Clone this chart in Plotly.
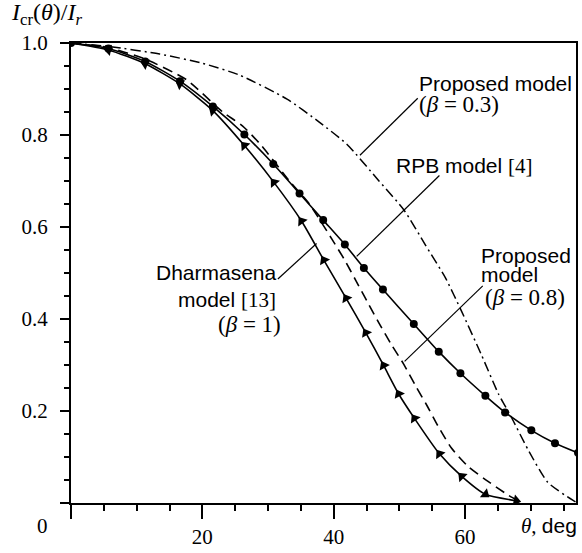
import plotly.graph_objects as go

# ---------------- data ----------------
theta_rpb = [0, 5.7, 11.3, 16.6, 21.6, 26.4, 30.8, 34.8, 38.4, 41.7, 44.6, 47.5,
             52.2, 56.0, 59.3, 63.1, 66.1, 70.1, 73.7, 77.2]
ratio_rpb = [1.0, 0.988, 0.960, 0.917, 0.862, 0.801, 0.737, 0.673, 0.615, 0.562, 0.511, 0.464,
             0.389, 0.329, 0.282, 0.233, 0.197, 0.158, 0.130, 0.109]

theta_dharm = [0, 5.7, 11.3, 16.6, 21.6, 26.4, 30.9, 35.1, 38.5, 41.9, 44.9, 47.6,
               49.9, 52.3, 56.1, 59.5, 63.1, 67.8]
ratio_dharm = [1.0, 0.985, 0.955, 0.911, 0.853, 0.777, 0.697, 0.613, 0.528, 0.445, 0.370, 0.299,
               0.237, 0.184, 0.107, 0.058, 0.019, 0.005]

theta_p08 = [0, 5.7, 11.3, 17.6, 23.1, 26.1, 29.0, 33.2, 36.3, 39.8, 41.6, 43.4, 45.1,
             46.9, 48.8, 50.7, 52.5, 54.2, 55.9, 57.9, 60.5, 63.1, 66.6, 68.1]
ratio_p08 = [1.0, 0.99, 0.965, 0.920, 0.850, 0.820, 0.777, 0.701, 0.650, 0.572, 0.530, 0.483, 0.438,
             0.391, 0.344, 0.301, 0.254, 0.212, 0.167, 0.120, 0.079, 0.051, 0.017, 0.005]

theta_p03 = [0, 6.0, 13.5, 20.0, 25.7, 32.9, 37.8, 42.0, 46.9, 50.7, 54.0, 57.0, 59.5,
             62.5, 65.1, 67.0, 69.6, 72.6, 76.4, 76.9]
ratio_p03 = [1.0, 0.992, 0.976, 0.956, 0.930, 0.878, 0.828, 0.780, 0.700, 0.637, 0.560, 0.490, 0.416,
             0.322, 0.237, 0.188, 0.116, 0.045, 0.006, 0.002]

x_tick_vals = [0, 20, 40, 60]
x_tick_text = ["", "20", "40", "60"]
y_tick_vals = [0, 0.2, 0.4, 0.6, 0.8, 1.0]
y_tick_text = ["", "0.2", "0.4", "0.6", "0.8", "1.0"]

SERIF = "Liberation Serif"
SANS = "Liberation Sans"
W, H = 582, 553
ML, MR, MT, MB = 71, 4, 43, 42
PW, PH = W - ML - MR, H - MT - MB


def px(xp):
    return (xp - ML) / PW


def py(yp):
    return (H - MB - yp) / PH


fig = go.Figure()

fig.add_trace(go.Scatter(x=theta_p03, y=ratio_p03, mode="lines",
                         line=dict(color="black", width=1.5, dash="10px,4px,2px,4px",
                                   shape="spline", smoothing=0.6)))
fig.add_trace(go.Scatter(x=theta_p08, y=ratio_p08, mode="lines",
                         line=dict(color="black", width=1.6, dash="10px,6px",
                                   shape="spline", smoothing=0.6)))
fig.add_trace(go.Scatter(x=theta_rpb, y=ratio_rpb, mode="lines+markers",
                         line=dict(color="black", width=1.6, shape="spline", smoothing=0.6),
                         marker=dict(symbol="circle", size=8, color="black")))
n = len(theta_dharm)
fig.add_trace(go.Scatter(x=theta_dharm, y=ratio_dharm, mode="lines+markers",
                         line=dict(color="black", width=1.6, shape="spline", smoothing=0.6),
                         marker=dict(symbol="triangle-up", size=10, color="black",
                                     angleref="previous",
                                     angle=[180] * (n - 2) + [0, 0])))

# leader lines (data coordinates)
leaders = [
    ((52.8, 0.880), (44.0, 0.756)),
    ((56.1, 0.712), (43.5, 0.536)),
    ((31.5, 0.487), (37.4, 0.564)),
    ((62.7, 0.472), (50.8, 0.308)),
]
for (x0, y0), (x1, y1) in leaders:
    fig.add_shape(type="line", xref="x", yref="y", x0=x0, y0=y0, x1=x1, y1=y1,
                  line=dict(color="black", width=1.2))

ann = []


def label(text, xp, yp, anchor="left", font=SANS, size=21):
    ann.append(dict(text=text, x=px(xp), y=py(yp), xref="paper", yref="paper",
                    xanchor=anchor, yanchor="middle", showarrow=False,
                    font=dict(family=font, size=size, color="black")))


label("Proposed model", 418, 84)
label("(<i>β</i> = 0.3)", 418, 106, font=SERIF, size=23)
label("RPB model <span style=\"font-family:Liberation Serif\">[4]</span>", 395, 168)
label("Dharmasena", 280, 276, anchor="right")
label("model <span style=\"font-family:Liberation Serif\">[13]</span>", 279, 304, anchor="right")
label("(<i>β</i> = 1)", 284, 329, anchor="right", font=SERIF, size=23)
label("Proposed", 481, 259)
label("model", 481, 279)
label("(<i>β</i> = 0.8)", 485, 302, font=SERIF, size=23)
label("<i>I</i><sub>cr</sub>(<i>θ</i>)/<i>I</i><sub><i>r</i></sub>", 9, 14, font=SERIF, size=24)
label("0", 42, 534, anchor="center", font=SERIF, size=21)
label("<i>θ</i>, <span style=\"font-family:Liberation Sans\">deg</span>", 581, 534,
      anchor="right", font=SERIF, size=21)

fig.update_layout(
    width=W, height=H,
    margin=dict(l=ML, r=MR, t=MT, b=MB),
    paper_bgcolor="white", plot_bgcolor="white",
    showlegend=False,
    annotations=ann,
    xaxis=dict(range=[0, 76.9], showgrid=False, zeroline=False,
               showline=True, linecolor="black", linewidth=2, mirror=True,
               ticks="outside", ticklen=14, tickwidth=1.5, tickcolor="black",
               tickmode="array", tickvals=x_tick_vals, ticktext=x_tick_text,
               tickfont=dict(family=SERIF, size=21, color="black"),
               minor=dict(dtick=5, ticklen=6, tickwidth=1.5, tickcolor="black",
                          ticks="outside", showgrid=False)),
    yaxis=dict(range=[0, 1.0], showgrid=False, zeroline=False,
               showline=True, linecolor="black", linewidth=2, mirror=True,
               ticks="outside", ticklen=9, tickwidth=1.5, tickcolor="black",
               tickmode="array", tickvals=y_tick_vals, ticktext=y_tick_text,
               ticklabelstandoff=8,
               tickfont=dict(family=SERIF, size=21, color="black"),
               minor=dict(dtick=0.05, ticklen=5, tickwidth=1.5, tickcolor="black",
                          ticks="outside", showgrid=False)),
)

fig.write_html("out.html")
